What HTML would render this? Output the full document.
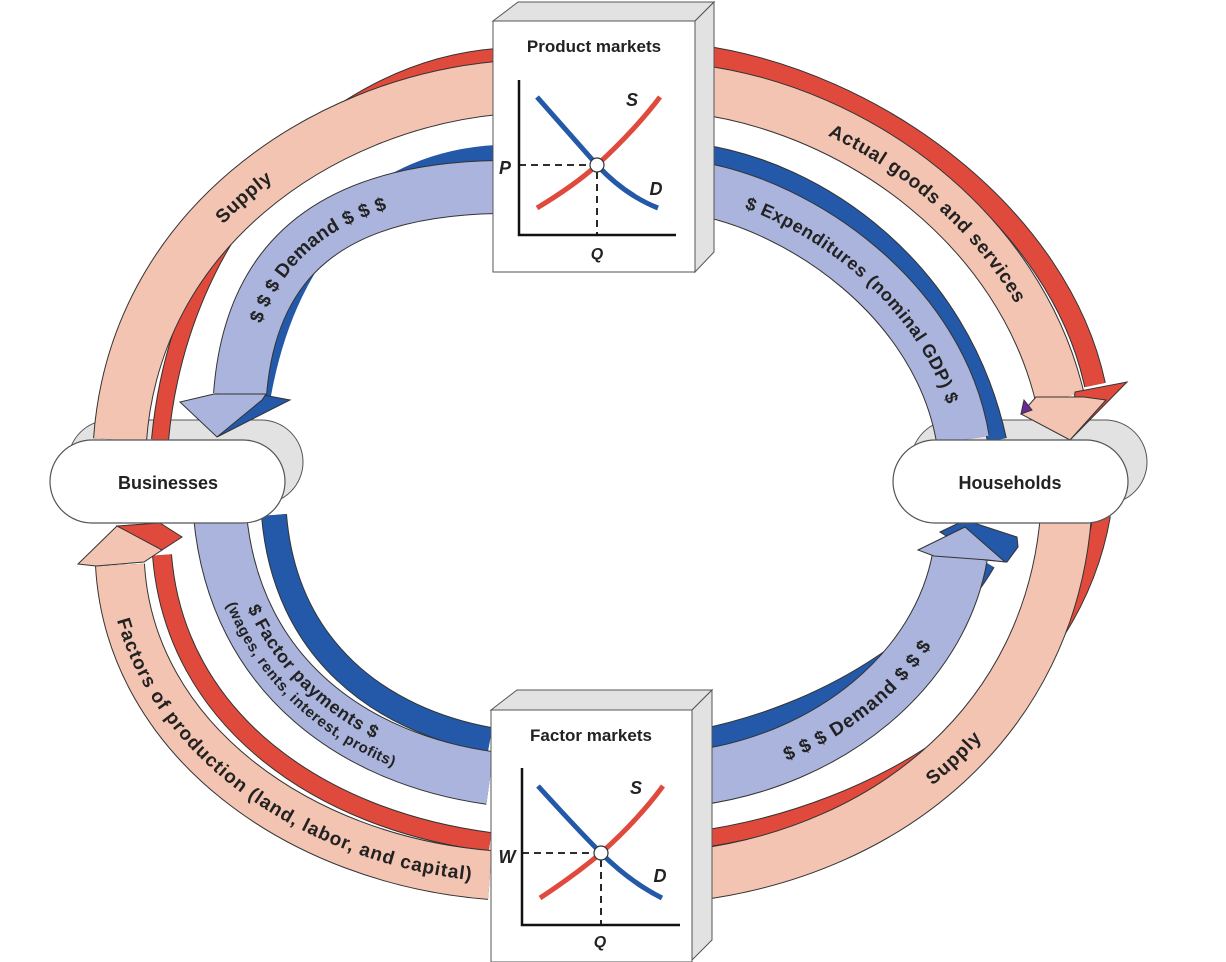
<!DOCTYPE html>
<html><head><meta charset="utf-8"><style>
html,body{margin:0;padding:0;background:#fff;}
svg{display:block;}
text{font-family:"Liberation Sans",Arial,sans-serif;fill:#222;}
</style></head><body>
<svg width="1226" height="962" viewBox="0 0 1226 962" xmlns="http://www.w3.org/2000/svg">
<defs>
<path id="t1" d="M120,440 C135,230 320,105 497,88"/>
<path id="t2" d="M240,395 C250,260 330,190 497,187"/>
<path id="t3" d="M695,89 C860,110 1020,230 1060,395"/>
<path id="t4" d="M695,188 C800,205 940,300 963,440"/>
<path id="t5" d="M115,570 C130,740 300,860 490,875"/>
<path id="t6" d="M220,515 C235,680 360,760 490,778"/>
<path id="t7" d="M695,778 C830,760 940,670 960,556"/>
<path id="t8" d="M695,875 C890,850 1050,720 1066,523"/>
</defs>

<rect x="68" y="420" width="235" height="84" rx="42" fill="#e2e2e2" stroke="#555" stroke-width="1"/>
<rect x="911" y="420" width="236" height="84" rx="42" fill="#e2e2e2" stroke="#555" stroke-width="1"/>

<g fill="none" stroke-linecap="butt">
<!-- top-left -->
<path d="M497,57 C330,70 180,225 160,440" stroke="#333" stroke-width="18"/>
<path d="M497,57 C330,70 180,225 160,440" stroke="#e04a3c" stroke-width="16"/>
<path d="M497,88 C320,105 135,230 120,440" stroke="#333" stroke-width="54"/>
<path d="M497,88 C320,105 135,230 120,440" stroke="#f3c4b1" stroke-width="52"/>
<path d="M497,154 C380,160 290,240 262,395" stroke="#2458a8" stroke-width="18"/>
<path d="M497,187 C330,190 250,260 240,395" stroke="#333" stroke-width="54"/>
<path d="M497,187 C330,190 250,260 240,395" stroke="#aab4dc" stroke-width="52"/>
<!-- top-right -->
<path d="M695,55 C880,80 1060,220 1095,385" stroke="#333" stroke-width="22"/>
<path d="M695,55 C880,80 1060,220 1095,385" stroke="#e04a3c" stroke-width="20"/>
<path d="M695,89 C860,110 1020,230 1060,398" stroke="#333" stroke-width="50"/>
<path d="M695,89 C860,110 1020,230 1060,398" stroke="#f3c4b1" stroke-width="48"/>
<path d="M695,153 C820,170 960,270 997,440" stroke="#333" stroke-width="20"/>
<path d="M695,153 C820,170 960,270 997,440" stroke="#2458a8" stroke-width="18"/>
<path d="M695,188 C800,205 940,300 963,440" stroke="#333" stroke-width="54"/>
<path d="M695,188 C800,205 940,300 963,440" stroke="#aab4dc" stroke-width="52"/>
<!-- bottom-left -->
<path d="M490,842 C320,820 175,720 162,555" stroke="#333" stroke-width="20"/>
<path d="M490,842 C320,820 175,720 162,555" stroke="#e04a3c" stroke-width="18"/>
<path d="M490,875 C300,860 130,740 120,565" stroke="#333" stroke-width="50"/>
<path d="M490,875 C300,860 130,740 120,565" stroke="#f3c4b1" stroke-width="48"/>
<path d="M274,515 C285,650 380,720 490,740" stroke="#333" stroke-width="26"/>
<path d="M274,515 C285,650 380,720 490,740" stroke="#2458a8" stroke-width="24"/>
<path d="M220,515 C235,680 360,760 490,778" stroke="#333" stroke-width="54"/>
<path d="M220,515 C235,680 360,760 490,778" stroke="#aab4dc" stroke-width="52"/>
<!-- bottom-right -->
<path d="M695,741 C830,715 940,640 985,562" stroke="#333" stroke-width="22"/>
<path d="M695,741 C830,715 940,640 985,562" stroke="#2458a8" stroke-width="20"/>
<path d="M695,778 C830,760 940,670 960,556" stroke="#333" stroke-width="56"/>
<path d="M695,778 C830,760 940,670 960,556" stroke="#aab4dc" stroke-width="54"/>
<path d="M695,840 C880,815 1070,700 1102,515" stroke="#333" stroke-width="18"/>
<path d="M695,840 C880,815 1070,700 1102,515" stroke="#e04a3c" stroke-width="16"/>
<path d="M695,875 C890,850 1050,720 1066,515" stroke="#333" stroke-width="52"/>
<path d="M695,875 C890,850 1050,720 1066,515" stroke="#f3c4b1" stroke-width="50"/>
</g>

<g stroke="#333" stroke-width="1" stroke-linejoin="miter">
<polygon points="258,394 290,400 217,437" fill="#2458a8"/>
<polygon points="214,394 180,402 217,437 262,400 266,394" fill="#aab4dc"/>
<polygon points="1075,392 1127,382 1070,440" fill="#e04a3c"/>
<polygon points="1036,397 1021,414 1070,440 1106,400 1084,397" fill="#f3c4b1"/>
<polygon points="1024,400 1032,410 1021,414" fill="#6a2a9a"/>
<polygon points="940,532 965,520 1017,537 1018,547 1007,562 985,560" fill="#2458a8"/>
<polygon points="934,556 918,550 965,527 1005,562 988,560" fill="#aab4dc"/>
<polygon points="117,526 160,523 182,537 162,550 150,548" fill="#e04a3c"/>
<polygon points="96,566 78,564 117,526 162,550 144,562" fill="#f3c4b1"/>
</g>

<rect x="50" y="440" width="235" height="83" rx="42" fill="#fff" stroke="#555" stroke-width="1.2"/>
<text x="168" y="489" font-size="18" font-weight="bold" text-anchor="middle">Businesses</text>
<rect x="893" y="440" width="235" height="83" rx="42" fill="#fff" stroke="#555" stroke-width="1.2"/>
<text x="1010" y="489" font-size="18" font-weight="bold" text-anchor="middle">Households</text>

<g stroke="#555" stroke-width="1">
<polygon points="493,21 518,2 714,2 695,21" fill="#e2e2e2"/>
<polygon points="695,21 714,2 714,252 695,272" fill="#e2e2e2"/>
<rect x="493" y="21" width="202" height="251" fill="#fff"/>
</g>
<text x="594" y="52" font-size="17" font-weight="bold" text-anchor="middle">Product markets</text>
<g fill="none">
<path d="M519,80 V235 H676" stroke="#111" stroke-width="2.5"/>
<path d="M519,165 H590 M597,172 V235" stroke="#111" stroke-width="1.8" stroke-dasharray="7,5"/>
<path d="M537,97 Q575,140 597,165 Q625,195 658,208" stroke="#2458a8" stroke-width="5"/>
<path d="M537,208 Q575,185 597,165 Q635,130 660,97" stroke="#e04a3c" stroke-width="5"/>
</g>
<circle cx="597" cy="165" r="7" fill="#fff" stroke="#333" stroke-width="1.2"/>
<text x="505" y="174" font-size="18" font-weight="bold" font-style="italic" text-anchor="middle">P</text>
<text x="597" y="259" font-size="16" font-weight="bold" font-style="italic" text-anchor="middle">Q</text>
<text x="632" y="106" font-size="18" font-weight="bold" font-style="italic" text-anchor="middle">S</text>
<text x="656" y="195" font-size="18" font-weight="bold" font-style="italic" text-anchor="middle">D</text>

<g stroke="#555" stroke-width="1">
<polygon points="491,710 517,690 712,690 692,710" fill="#e2e2e2"/>
<polygon points="692,710 712,690 712,940 692,960" fill="#e2e2e2"/>
<rect x="491" y="710" width="201" height="252" fill="#fff"/>
</g>
<text x="591" y="741" font-size="17" font-weight="bold" text-anchor="middle">Factor markets</text>
<g fill="none">
<path d="M522,768 V925 H680" stroke="#111" stroke-width="2.5"/>
<path d="M522,853 H594 M601,860 V925" stroke="#111" stroke-width="1.8" stroke-dasharray="7,5"/>
<path d="M538,786 Q578,830 601,853 Q630,882 662,898" stroke="#2458a8" stroke-width="5"/>
<path d="M540,898 Q575,875 601,853 Q638,820 663,786" stroke="#e04a3c" stroke-width="5"/>
</g>
<circle cx="601" cy="853" r="7" fill="#fff" stroke="#333" stroke-width="1.2"/>
<text x="507" y="863" font-size="18" font-weight="bold" font-style="italic" text-anchor="middle">W</text>
<text x="600" y="947" font-size="16" font-weight="bold" font-style="italic" text-anchor="middle">Q</text>
<text x="636" y="794" font-size="18" font-weight="bold" font-style="italic" text-anchor="middle">S</text>
<text x="660" y="882" font-size="18" font-weight="bold" font-style="italic" text-anchor="middle">D</text>

<g font-size="19" font-weight="bold" letter-spacing="0.8">
<text dy="7" text-anchor="middle"><textPath href="#t1" startOffset="50%">Supply</textPath></text>
<text dy="7" text-anchor="middle"><textPath href="#t2" startOffset="45%">$ $ $ Demand $ $ $</textPath></text>
<text dy="7" text-anchor="middle"><textPath href="#t3" startOffset="54%">Actual goods and services</textPath></text>
<text dy="7" text-anchor="middle" font-size="18"><textPath href="#t4" startOffset="52%">$ Expenditures (nominal GDP) $</textPath></text>
<text dy="7" text-anchor="middle"><textPath href="#t5" startOffset="53%">Factors of production (land, labor, and capital)</textPath></text>
<text dy="-4" text-anchor="middle" font-size="18"><textPath href="#t6" startOffset="47%">$ Factor payments $</textPath></text>
<text dy="14" text-anchor="middle" font-size="15" letter-spacing="0.3"><textPath href="#t6" startOffset="49%">(wages, rents, interest, profits)</textPath></text>
<text dy="7" text-anchor="middle"><textPath href="#t7" startOffset="50%">$ $ $ Demand $ $ $</textPath></text>
<text dy="7" text-anchor="middle"><textPath href="#t8" startOffset="52%">Supply</textPath></text>
</g>
</svg>
</body></html>
